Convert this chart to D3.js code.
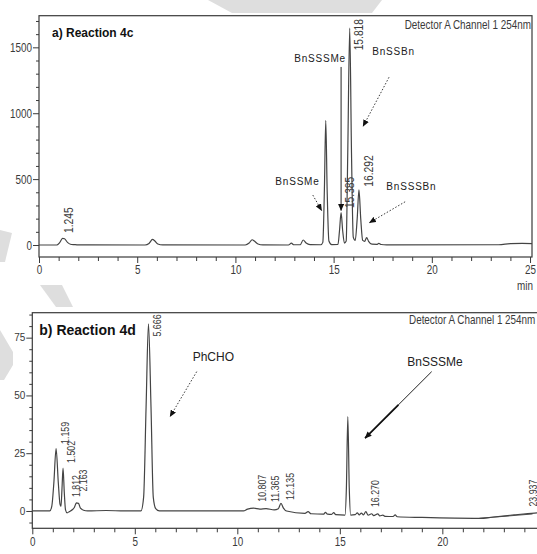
<!DOCTYPE html>
<html>
<head>
<meta charset="utf-8">
<script src="https://cdn.jsdelivr.net/npm/d3@7"></script>
<style>
  body { margin: 0; background: #fff; }
  svg { display: block; }
</style>
</head>
<body>
<svg id="chart" width="537" height="554"></svg>
<script>
// ---------- data (time in min, signal in mAU) ----------
const traceA = [
  [0, 0], [0.9, 0], [1.05, 18], [1.2, 50], [1.3, 47], [1.45, 20], [1.6, 6], [1.8, 3], [2.0, 1],
  [5.4, 0], [5.6, 12], [5.78, 42], [5.9, 30], [6.05, 8], [6.3, 1],
  [10.5, 0], [10.7, 15], [10.85, 40], [10.98, 28], [11.15, 8], [11.4, 1],
  [12.7, 0], [12.85, 14], [12.97, 2], [13.3, 2], [13.45, 38], [13.6, 15], [13.8, 3],
  [14.35, 2], [14.45, 20], [14.53, 420], [14.6, 945], [14.67, 420], [14.76, 30], [14.9, 3],
  [15.22, 4], [15.3, 110], [15.38, 245], [15.46, 110], [15.55, 15], [15.64, 30],
  [15.72, 700], [15.82, 1645], [15.91, 700], [16.0, 60], [16.1, 35], [16.2, 200],
  [16.29, 418], [16.38, 200], [16.48, 35], [16.58, 28], [16.68, 56], [16.78, 28],
  [16.95, 6], [17.2, 5], [17.3, 12], [17.42, 4], [17.7, 1],
  [23.4, 2], [24.0, 10], [24.6, 12], [25.1, 10]
];

const traceB = [
  [0, 0], [0.85, 0], [0.95, 2], [1.05, 12], [1.16, 27], [1.27, 12], [1.35, 3], [1.4, 2],
  [1.45, 10], [1.5, 18.5], [1.56, 8], [1.62, 0.5], [1.7, -0.8], [1.8, -0.3], [1.95, 0.5],
  [2.05, 1.5], [2.15, 3.5], [2.25, 3.3], [2.35, 1.2], [2.5, 0.3], [2.7, 0], [3.6, 0.2],
  [4.5, 0], [5.3, 0], [5.43, 6], [5.55, 45], [5.666, 81], [5.79, 45], [5.9, 6], [6.02, 1],
  [6.2, 0], [10.3, 0], [10.5, 0.8], [10.8, 1.2], [11.1, 0.8], [11.4, 1.0], [11.8, 0.5],
  [12.0, 1.0], [12.13, 3.3], [12.25, 1.2], [12.4, 0], [13.3, -1], [13.45, -0.3],
  [13.6, -1.2], [14.2, -1.4], [14.3, -0.6], [14.4, -1.4], [14.6, -1.5], [14.7, -0.7],
  [14.8, -1.6], [15.25, -1.8], [15.32, 10], [15.39, 40.8], [15.46, 10], [15.53, -1.8],
  [15.75, -1.6], [15.85, -0.8], [15.95, -1.7], [16.05, -0.9], [16.15, -1.7], [16.27, -0.3],
  [16.38, -1.8], [16.55, -1.2], [16.65, -2], [16.85, -1.3], [16.95, -2.1], [17.1, -1.8],
  [17.2, -2.3], [17.6, -2.4], [17.7, -1.7], [17.8, -2.5], [19, -2.8], [21.8, -3.2],
  [22.5, -2.6], [23.5, -1.7], [24.5, -0.9], [25.3, -0.5]
];
const baselineB = [[21.8, -3.2], [24.4, -1.3]];

// peak retention-time labels: [text, time, signal at label foot]
const peakLabelsA = [
  ["1.245", 1.50, 91], ["15.385", 15.80, 280], ["15.818", 16.26, 1477], ["16.292", 16.77, 442]
];
const peakLabelsB = [
  ["1.159", 1.60, 29], ["1.502", 1.87, 20.8], ["1.812", 2.13, 6], ["2.163", 2.49, 8.4],
  ["5.666", 6.07, 75.5], ["10.807", 11.19, 4], ["11.365", 11.84, 3.9], ["12.135", 12.57, 4.8],
  ["16.270", 16.72, 1.7], ["23.937", 24.44, 1.9]
];

// compound annotations: [text, label time, label signal, arrow from, arrow to, dotted]
const compoundsA = [
  ["BnSSSMe", 14.31, 1386, [15.38, 1351], [15.38, 262], false],
  ["BnSSBn", 18.05, 1439, [17.82, 1273], [16.5, 900], true],
  ["BnSSMe", 13.16, 455, [13.94, 379], [14.39, 262], true],
  ["BnSSSBn", 18.96, 417, [18.64, 328], [16.82, 169], true]
];
const compoundsB = [
  ["PhCHO", 8.83, 64.9, [8.02, 60.3], [6.72, 40.8], true],
  ["BnSSSMe", 19.64, 62.7, [19.48, 60.3], [16.23, 31.5], false]
];

const xTicks = [0, 5, 10, 15, 20, 25];
const yTicksA = [0, 500, 1000, 1500];
const yTicksB = [0, 25, 50, 75];

// ---------- drawing ----------
const svg = d3.select("#chart");
const sans = "'Liberation Sans', Arial, sans-serif";
const ink = "#3a3a3a";

// squeeze a text horizontally, standing in for a narrow face
function narrow(sel, k = 0.76) {
  sel.each(function () {
    const w = this.getComputedTextLength();
    this.setAttribute("textLength", w * k);
    this.setAttribute("lengthAdjust", "spacingAndGlyphs");
  });
}

// faint page watermark behind the figure
const watermark = [
  [[208, 0], [382, 0], [372, 13], [232, 13]],
  [[0, 230], [12, 233], [5, 262], [0, 262]],
  [[40, 285], [62, 285], [73, 307], [56, 307]],
  [[0, 330], [13, 352], [13, 365], [4, 380], [0, 380]]
];
svg.append("g").selectAll("path").data(watermark).enter().append("path")
  .attr("d", d => "M" + d.join("L") + "Z")
  .attr("fill", "#dedede");

const defs = svg.append("defs");
defs.append("marker")
  .attr("id", "head")
  .attr("markerUnits", "userSpaceOnUse")
  .attr("markerWidth", 7).attr("markerHeight", 6)
  .attr("refX", 6.5).attr("refY", 3)
  .attr("orient", "auto")
  .append("path").attr("d", "M0,0L7,3L0,6Z").attr("fill", "#111");

function panel(opt) {
  const x = d3.scaleLinear().domain(opt.xDomain).range(opt.xRange);
  const y = d3.scaleLinear().domain(opt.yDomain).range(opt.yRange);
  const [x0, x1] = opt.xRange;
  const [y1, y0] = opt.yRange;
  const g = svg.append("g");

  // frame
  g.append("rect")
    .attr("x", x0).attr("y", y0)
    .attr("width", x1 - x0).attr("height", y1 - y0)
    .attr("fill", "none").attr("stroke", ink).attr("stroke-width", 1.2);

  // y axis
  const yMinor = d3.range(opt.yMinorStep * Math.ceil(opt.yDomain[0] / opt.yMinorStep), opt.yDomain[1], opt.yMinorStep)
    .filter(v => !opt.yTicks.includes(v));
  g.append("g").attr("transform", `translate(${x0},0)`)
    .call(d3.axisLeft(y).tickValues(yMinor).tickSize(3).tickFormat(""))
    .call(a => a.select(".domain").remove())
    .call(a => a.selectAll("line").attr("stroke", ink));
  const yAxis = g.append("g").attr("transform", `translate(${x0},0)`)
    .call(d3.axisLeft(y).tickValues(opt.yTicks).tickSize(6).tickPadding(1).tickFormat(d3.format("d")))
    .call(a => a.select(".domain").remove())
    .call(a => a.selectAll("line").attr("stroke", ink));
  yAxis.selectAll("text")
    .attr("font-family", sans).attr("font-size", opt.yFontSize).attr("fill", ink);
  if (opt.yNarrow) narrow(yAxis.selectAll("text"));

  // x axis
  const xMinor = d3.range(0, opt.xDomain[1], 1).filter(v => !xTicks.includes(v));
  g.append("g").attr("transform", `translate(0,${y1})`)
    .call(d3.axisBottom(x).tickValues(xMinor).tickSize(4).tickFormat(""))
    .call(a => a.select(".domain").remove())
    .call(a => a.selectAll("line").attr("stroke", ink));
  const xAxis = g.append("g").attr("transform", `translate(0,${y1})`)
    .call(d3.axisBottom(x).tickValues(xTicks).tickSize(6))
    .call(a => a.select(".domain").remove())
    .call(a => a.selectAll("line").attr("stroke", ink));
  xAxis.selectAll("text")
    .attr("y", 8).attr("dy", "0.71em")
    .attr("font-family", sans).attr("font-size", 13).attr("fill", ink);
  narrow(xAxis.selectAll("text"));
  g.append("text")
    .attr("x", x1 + 1).attr("y", y1 + 33)
    .attr("text-anchor", "end")
    .attr("font-family", sans).attr("font-size", 13).attr("fill", ink)
    .text("min")
    .call(narrow);

  // headings
  g.append("text")
    .attr("x", x0 + opt.titleDx).attr("y", y0 + opt.titleDy)
    .attr("font-family", sans).attr("font-weight", "bold")
    .attr("font-size", opt.titleSize).attr("fill", "#111")
    .text(opt.title);
  g.append("text")
    .attr("x", opt.detX).attr("y", y0 + opt.detDy)
    .attr("text-anchor", opt.detAnchor)
    .attr("font-family", sans).attr("font-size", 13).attr("fill", ink)
    .text("Detector A Channel 1 254nm")
    .call(narrow);

  // trace
  const line = d3.line().x(d => x(d[0])).y(d => y(d[1])).curve(d3.curveMonotoneX);
  const plot = g.append("g");
  (opt.extra || []).forEach(seg => {
    plot.append("path").datum(seg).attr("d", d3.line().x(d => x(d[0])).y(d => y(d[1])))
      .attr("fill", "none").attr("stroke", "#555").attr("stroke-width", 1);
  });
  plot.append("path").datum(opt.trace)
    .attr("d", line)
    .attr("fill", "none").attr("stroke", "#444").attr("stroke-width", 1.2)
    .attr("stroke-linejoin", "round");

  // retention time labels
  g.selectAll(".rt").data(opt.peaks).enter().append("text")
    .attr("class", "rt")
    .attr("transform", d => `translate(${x(d[1])},${y(d[2])}) rotate(-90)`)
    .attr("dy", "0.35em")
    .attr("font-family", sans).attr("font-size", opt.rtSize).attr("fill", ink)
    .text(d => d[0])
    .call(narrow);

  // compound labels and arrows
  g.selectAll(".cmp").data(opt.compounds).enter().append("text")
    .attr("class", "cmp")
    .attr("x", d => x(d[1])).attr("y", d => y(d[2]))
    .attr("text-anchor", "middle")
    .attr("font-family", sans).attr("font-size", opt.cmpSize)
    .attr("letter-spacing", opt.cmpSpacing).attr("fill", "#222")
    .text(d => d[0]);
  opt.compounds.forEach(d => {
    const a = [x(d[3][0]), y(d[3][1])];
    const b = [x(d[4][0]), y(d[4][1])];
    const arrow = g.append("line")
      .attr("x1", a[0]).attr("y1", a[1]).attr("x2", b[0]).attr("y2", b[1])
      .attr("stroke", "#222").attr("stroke-width", d[5] ? 0.9 : 1)
      .attr("marker-end", "url(#head)");
    if (d[5]) arrow.attr("stroke-dasharray", "1.5,1.8");
    else if (opt.boldArrow) {
      const m = d3.interpolate(a, b)(0.5);
      g.append("line")
        .attr("x1", m[0]).attr("y1", m[1]).attr("x2", b[0]).attr("y2", b[1])
        .attr("stroke", "#111").attr("stroke-width", 1.8);
    }
  });
}

panel({
  title: "a) Reaction 4c", titleDx: 13, titleDy: 21, titleSize: 12,
  detX: 531, detDy: 13, detAnchor: "end",
  xDomain: [0, 25.1], xRange: [39, 532],
  yDomain: [-91, 1740], yRange: [257, 15.7],
  yTicks: yTicksA, yMinorStep: 100, yFontSize: 13, yNarrow: true,
  trace: traceA, peaks: peakLabelsA, rtSize: 13.5,
  compounds: compoundsA, cmpSize: 10, cmpSpacing: 0.8
});

panel({
  title: "b) Reaction 4d", titleDx: 7, titleDy: 22, titleSize: 14,
  detX: 409, detDy: 11, detAnchor: "start",
  xDomain: [0, 25.3], xRange: [32.3, 551],
  yDomain: [-7.5, 85.8], yRange: [528.3, 312.7],
  yTicks: yTicksB, yMinorStep: 5, yFontSize: 10, yNarrow: false,
  trace: traceB, extra: [baselineB], peaks: peakLabelsB, rtSize: 11.6,
  compounds: compoundsB, cmpSize: 12, cmpSpacing: 0, boldArrow: true
});
</script>
</body>
</html>
